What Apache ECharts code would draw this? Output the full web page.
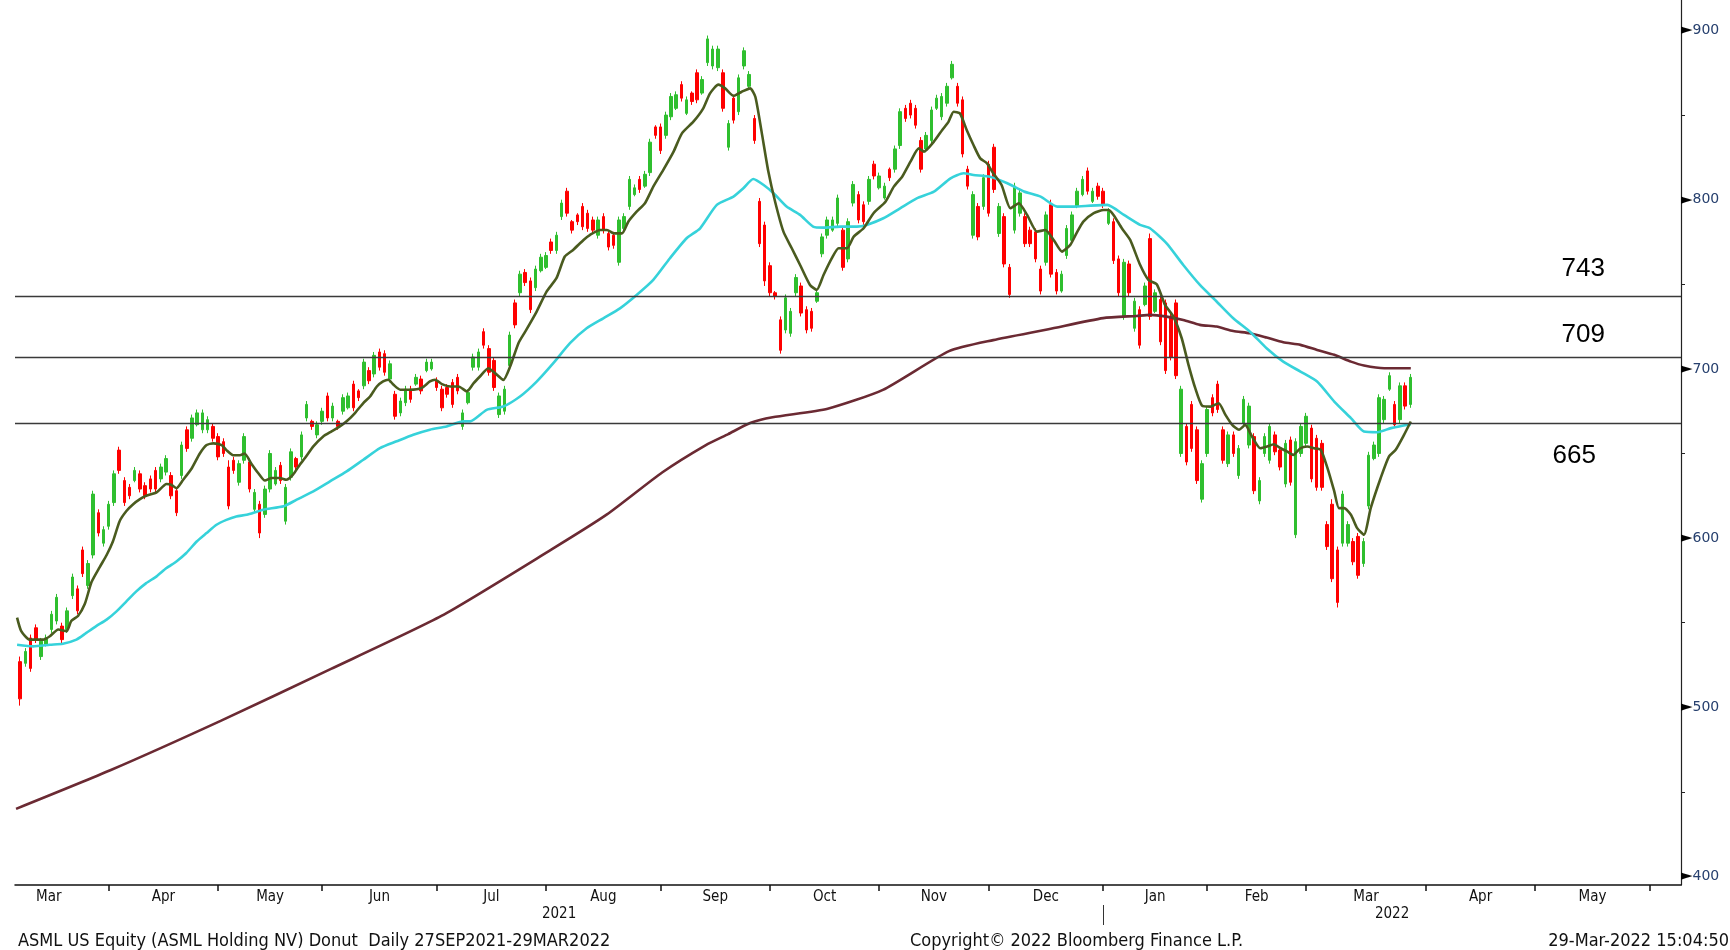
<!DOCTYPE html>
<html>
<head>
<meta charset="utf-8">
<script src="https://cdn.jsdelivr.net/npm/echarts@6/dist/echarts.min.js"></script>
<style>
html, body { margin: 0; padding: 0; background: #fff; }
#chart { width: 1730px; height: 950px; }
</style>
</head>
<body>
<div id="chart"></div>
<script>
// daily bars, index 0 = 8 Mar 2021 : [open, close, low, high]
const candles = [
  [527,505,501,530],[526,533,524,535],[541,523,521,543],[547,540,538,549],[530,539,528,541],
  [537,541,536,543],[546,555,544,557],[551,565,549,567],[548,540,538,550],[546,557,544,559],
  [566,577,564,579],[570,557,555,572],[593,579,577,595],[572,585,570,587],[590,626,588,628],
  [615,603,601,617],[597,605,595,607],[607,620,605,622],[621,638,619,640],[652,640,638,654],
  [634,621,619,636],[630,625,623,632],[634,640,633,642],[638,629,627,640],[631,625,623,633],
  [635,629,627,637],[640,629,627,642],[635,642,633,644],[639,647,637,649],[637,625,623,639],
  [628,615,613,630],[637,655,635,657],[664,653,651,666],[659,671,657,673],[667,674,666,676],
  [664,674,662,676],[664,670,662,672],[666,659,657,668],[660,648,646,662],[657,650,648,659],
  [642,619,617,646],[646,640,638,648],[633,644,631,646],[646,660,644,662],[645,629,627,647],
  [617,627,615,629],[620,603,600,622],[614,629,612,631],[629,650,627,652],[632,640,631,642],
  [643,634,632,645],[610,630,608,632],[636,651,634,653],[647,642,640,648],[648,661,646,663],
  [671,679,669,681],[669,666,664,670],[661,667,659,669],[669,675,667,677],[684,671,669,686],
  [671,678,669,680],[669,666,664,670],[675,683,673,685],[677,684,676,686],[691,677,675,693],
  [687,683,681,688],[690,704,688,706],[699,693,691,701],[697,708,695,710],[710,701,699,712],
  [709,698,696,711],[694,703,692,705],[685,672,670,687],[674,681,672,683],[680,688,678,690],
  [688,682,680,690],[691,695,690,697],[694,687,685,696],[699,704,698,706],[700,704,699,706],
  [693,689,687,695],[688,677,675,690],[689,685,683,691],[692,679,677,694],[695,687,685,697],
  [666,674,664,676],[680,686,679,688],[701,707,699,709],[701,710,699,712],[722,714,712,724],
  [712,698,696,714],[705,689,687,707],[673,684,671,686],[675,688,673,690],[702,720,700,722],
  [739,726,724,741],[745,756,743,758],[757,751,749,759],[752,735,733,754],[748,759,746,761],
  [758,766,757,768],[760,767,759,769],[775,770,768,777],[770,779,768,781],[790,798,788,800],
  [805,792,790,807],[787,782,780,788],[791,787,785,792],[796,784,782,798],[792,783,781,794],
  [788,782,780,790],[779,788,777,790],[790,782,780,792],[780,772,770,782],[779,773,771,781],
  [763,788,761,790],[783,790,782,792],[796,812,794,814],[803,807,802,809],[812,806,804,814],
  [808,815,807,817],[816,834,814,836],[843,838,836,844],[843,829,827,845],[838,850,836,852],
  [849,861,847,863],[854,862,853,864],[868,860,858,870],[851,859,850,861],[863,858,856,864],
  [875,859,857,877],[863,871,862,873],[881,895,879,897],[879,889,877,891],[878,889,876,891],
  [875,854,852,877],[831,845,829,847],[860,847,845,862],[852,872,850,874],[879,888,877,890],
  [867,874,866,876],[848,835,833,850],[799,774,772,801],[785,752,749,787],[761,745,743,763],
  [745,743,741,746],[729,711,709,731],[723,742,721,744],[721,734,719,736],[745,754,743,756],
  [749,733,731,751],[735,723,721,737],[734,724,722,736],[740,745,739,747],[768,778,766,780],
  [779,788,777,790],[782,788,781,790],[786,801,784,803],[782,760,758,784],[765,787,763,789],
  [798,809,796,811],[803,788,786,805],[797,787,785,799],[799,812,797,814],[821,814,812,823],
  [807,814,806,816],[801,808,800,810],[818,813,811,819],[818,830,816,832],[832,852,830,854],
  [854,848,846,856],[857,850,848,859],[854,844,842,856],[835,818,816,837],[830,838,828,840],
  [835,853,833,855],[854,860,853,862],[849,861,847,863],[857,867,855,869],[872,880,871,882],
  [867,857,855,869],[859,827,825,861],[818,808,806,820],[779,803,777,805],[796,778,776,798],
  [796,813,794,815],[821,792,790,823],[831,806,804,833],[780,796,778,798],[790,762,760,792],
  [760,744,742,762],[782,808,780,810],[792,804,790,806],[790,774,772,792],[782,774,772,784],
  [781,765,763,783],[759,746,744,761],[763,791,761,793],[797,756,754,800],[757,746,744,759],
  [746,756,745,758],[767,783,765,785],[776,791,774,793],[796,805,795,807],[803,812,802,814],
  [817,805,803,819],[799,805,798,807],[808,802,800,810],[805,797,795,807],[786,793,785,795],
  [787,764,762,789],[765,745,743,767],[731,763,729,765],[762,745,743,764],[724,740,722,742],
  [735,714,712,737],[738,749,737,751],[777,731,729,780],[734,745,733,747],[741,716,714,743],
  [739,699,697,741],[731,707,705,733],[739,696,694,741],[650,688,648,690],[666,645,643,668],
  [679,653,651,681],[664,634,632,666],[623,644,621,646],[650,676,648,678],[683,674,672,685],
  [691,676,674,693],[664,646,644,666],[644,661,642,663],[661,650,648,663],[637,653,635,655],
  [668,682,666,684],[655,678,653,680],[660,628,626,662],[622,634,620,636],[650,660,648,662],
  [646,666,644,668],[661,651,649,663],[652,642,640,654],[632,656,630,658],[658,633,631,660],
  [602,657,600,659],[650,666,648,668],[656,672,654,674],[665,635,633,667],[659,630,628,661],
  [656,630,628,658],[608,595,593,610],[620,576,574,623],[593,562,559,595],[597,626,595,628],
  [597,608,595,610],[598,586,584,600],[601,578,576,603],[585,598,583,600],[619,649,617,651],
  [647,655,646,657],[650,683,648,685],[670,682,668,684],[688,696,687,698],[679,667,665,681],
  [670,690,668,692],[690,678,676,692],[679,695,677,697]
];

// moving averages: [day index, value]
const ma20 = [
  [-0.6,553],[0.2,545],[1.8,540],[4.4,540],[5.7,542],[7.3,546],[8.9,545],[9.8,551],[11.1,554],
  [12.4,561],[13.7,574],[15.3,583],[16.6,590],[17.8,598],[19.1,610],[20.4,616],[21.7,620],
  [23,623],[24.2,625],[26.2,627],[28.1,632],[29,631.5],[30,629.5],[31.3,634.5],[32.9,641],
  [34.5,650],[35.8,655],[37.1,656],[38.7,655],[39.6,652],[40.9,649],[42.2,649],[43.1,650],
  [44.4,644],[45.7,638.5],[47,634],[48.3,635.5],[49.9,635.5],[51.1,634.5],[52.4,637.5],
  [53.7,643.4],[54.7,647.3],[56.3,654.2],[58.2,660.1],[59.8,663.1],[61.4,666],[62.7,669],
  [64.3,673.9],[65.9,679.8],[67.2,683.7],[68.5,689.6],[69.7,692.6],[70.7,693.6],[71.7,690.6],
  [73,687.7],[74.9,687.7],[77.1,688.7],[78.7,692.6],[79.7,693.6],[81,691],[82.6,689.6],
  [84.2,689.6],[85.8,686.7],[87.1,691.6],[88.3,695.5],[89.9,700.4],[91.2,697.5],[92.8,693.5],
  [94.1,701.4],[95.7,715.2],[97,722],[99.2,733.9],[101.1,745.7],[103,753.6],[104.6,766.4],
  [106.2,770.3],[108.2,776.2],[109.4,779.1],[111.4,782.1],[112.7,782.1],[114,780.1],
  [115.6,780.1],[116.8,787],[118.4,792.9],[120,797.9],[121.6,807.7],[123.5,817.5],
  [125.5,828.4],[127.1,839.2],[129.3,846.1],[131.2,854],[132.5,862.8],[134.1,868],
  [135.4,865.8],[137,861.4],[138.6,863.8],[140.2,865.8],[141.2,860.8],[142.4,840.2],
  [143.7,816.6],[145,798.8],[146.6,781.1],[148.2,771.3],[149.8,761.4],[151.7,749.6],
  [153,746.7],[154.3,755.5],[155.9,765.4],[157.2,771.3],[158.8,771.3],[160.1,778.2],
  [162,783.1],[163.9,792],[166.2,798.8],[167.8,807.7],[169.4,813.6],[171,822.5],[172.6,830.3],
  [173.6,828.4],[175.5,834.3],[177.1,841.2],[178.3,846],[179.3,852],[180.5,851],[181.8,841.2],
  [183.1,832.3],[184.4,824.4],[185.7,821.5],[186.9,815.6],[188.5,808.7],[190.2,794.9],
  [191.8,797.9],[193.4,791],[195.3,781.1],[196.9,782.1],[198.5,776.2],[200.1,769.3],
  [201.7,773.3],[202.9,780.2],[204.2,787],[206.2,792],[208.1,793.9],[209,793.9],[210,791],
  [211.6,783.1],[213.2,776.2],[215.1,761.5],[216.7,752.6],[218.3,750],[219.9,737.8],
  [221.5,730.9],[223.1,718.1],[224.4,702.4],[225.7,688.6],[227,678.3],[228.6,677.7],
  [230.2,679.7],[231.5,672.8],[232.8,666.9],[234.1,664],[235.3,666.9],[236.6,660],
  [238.2,653.1],[239.5,654.1],[240.8,655.5],[242.1,653.1],[243.3,651.2],[244.5,649.2],
  [245.9,653.1],[247.2,654.1],[248.5,653.1],[249.8,652.2],[251.1,641.3],[252.4,627.6],
  [253.3,617.7],[254.3,617.7],[255.6,613.8],[256.8,605.9],[258.1,602],[259.4,617.7],
  [261.3,635.4],[262.9,648.2],[264.2,652.2],[265.8,661],[267.1,668.9]
];
const ma50 = [
  [-0.6,537],[2.5,536],[5.7,537],[8.2,537.6],[10.8,540],[12.7,544],[14.6,548],[16.6,551.8],
  [18.5,556.7],[20.4,562.6],[22.3,568.5],[24.2,573.4],[26.2,577.4],[28.1,582.3],[30,586.2],
  [31.9,591.2],[33.9,598],[35.8,603],[37.7,607.9],[39.6,610.8],[41.5,612.8],[43.5,613.8],
  [46.7,616.8],[50.6,618.8],[53.1,622.7],[56.3,627.6],[59.5,633.5],[62.7,639.4],[65.9,646.3],
  [69.1,653.2],[72.3,657.2],[75.5,661.1],[78.7,664.1],[81.9,666],[85.2,669],[86.4,669],
  [89.6,675.8],[92.8,677.8],[96,683.7],[99.2,692.5],[102.4,703.4],[105.6,715.2],[108.8,724],
  [112,729.9],[115.2,735.8],[118.4,743.7],[121.6,752.6],[124.8,765.4],[128,777.2],
  [130.6,783.1],[133.8,796.9],[137,801.8],[138.9,806.7],[140.8,812.2],[142.8,808.7],
  [144.7,803.8],[147.2,795.9],[149.8,791],[152.3,784.1],[154.3,783.5],[157.5,784.1],
  [160.7,784.1],[162.6,785.1],[165.8,789],[169,794.9],[172.2,800.8],[175.5,804.7],
  [178.7,812.6],[181.2,815.6],[183.1,814.6],[186.3,813.6],[189.6,809.7],[192.8,804.8],
  [196,801.8],[199.2,795.9],[202.4,795.9],[205.6,796.5],[208.8,796.9],[212,791],[215.1,785.1],
  [217,783.1],[220.2,774.2],[223.4,761.4],[226.6,749.6],[229.8,739.8],[233,729.9],[236.2,722],
  [239.4,712.2],[242.6,704.3],[245.9,698.4],[249.1,692.5],[252.4,680.7],[255.6,670.9],
  [258.1,663],[260.7,662.6],[263.3,665],[267.1,667.3]
];
const ma200 = [
  [-0.8,440],[17.3,462.8],[38.5,492],[59.7,522.7],[80.9,554],[102,593.2],[112.7,614],
  [123.3,638.8],[131.7,655],[136,661.5],[140.2,668],[144.5,671.4],[155.1,676.5],[165.7,687.6],
  [178.4,710.5],[186.9,717],[197.5,723.4],[208,730],[214.4,731.3],[217,731.9],[220.2,730.9],
  [223.4,728.9],[226.6,726],[229.8,725],[233,722.4],[236.2,721.1],[239.4,718.5],[242.6,715.7],
  [245.9,714.2],[249.1,711.2],[252.4,708.3],[255.6,704.3],[258.1,702],[262,700.4],[267.1,700.4]
];

// horizontal levels (drawn where they sit on the chart) and their captions
const levels = [743, 707, 668];
const levelNames = ['743', '709', '665'];

// axis labels
const monthNames = ['Mar','Apr','May','Jun','Jul','Aug','Sep','Oct','Nov','Dec','Jan','Feb','Mar','Apr','May'];
const monthEdges = [-6, 17, 38, 58, 80, 101, 123, 144, 165, 186, 208, 228, 247, 270, 291, 313];
const yearNames = ['2021', '2022'];
const yearEdges = [-1, 208, 319];
const priceTicks = [400, 500, 600, 700, 800, 900];
const priceMinor = [450, 550, 650, 750, 850];

const UP = '#2fbf2f', DOWN = '#ff0000';
const FONT = '"DejaVu Sans Condensed", "DejaVu Sans", sans-serif';

const monthMid = monthNames.map((m, k) => (monthEdges[k] + monthEdges[k + 1]) / 2);
const yearMid = yearNames.map((y, k) => (yearEdges[k] + yearEdges[k + 1]) / 2);

const chart = echarts.init(document.getElementById('chart'));

const option = {
    animation: false,
    grid: { left: 15, right: 49, top: 0, bottom: 65 },
    xAxis: [
        {
            type: 'value',
            min: yearEdges[0],
            max: yearEdges[2],
            position: 'bottom',
            splitLine: { show: false },
            axisLine: { show: true, onZero: false, lineStyle: { color: '#111', width: 1.5 } },
            axisTick: { show: true, customValues: monthEdges.slice(1), length: 6, lineStyle: { color: '#111', width: 1.5 } },
            axisLabel: {
                customValues: monthMid,
                margin: 5,
                color: '#111',
                fontFamily: FONT,
                fontSize: 15,
                formatter: v => monthNames[monthMid.indexOf(v)] || ''
            }
        },
        {
            type: 'value',
            min: yearEdges[0],
            max: yearEdges[2],
            position: 'bottom',
            offset: 20,
            splitLine: { show: false },
            axisLine: { show: false, onZero: false },
            axisTick: { show: true, customValues: [yearEdges[1]], length: 20, lineStyle: { color: '#333', width: 1 } },
            axisLabel: {
                customValues: yearMid,
                margin: 2,
                color: '#111',
                fontFamily: FONT,
                fontSize: 15,
                formatter: v => yearNames[yearMid.indexOf(v)] || ''
            }
        }
    ],
    yAxis: {
        type: 'value',
        position: 'right',
        min: 395,
        max: 918,
        splitLine: { show: false },
        axisLine: { show: true, onZero: false, lineStyle: { color: '#222', width: 1.2 } },
        axisTick: { show: true, customValues: priceMinor, length: 4, lineStyle: { color: '#222' } },
        axisLabel: {
            customValues: priceTicks,
            margin: 0,
            formatter: v => '{t|►}{v|' + v + '}',
            rich: {
                t: { color: '#000', fontSize: 15, fontFamily: 'DejaVu Sans' },
                v: { color: '#27406e', fontSize: 14, fontFamily: 'DejaVu Sans' }
            }
        }
    },
    series: [
        {
            type: 'candlestick',
            data: candles.map((c, i) => [i, c[0], c[1], c[2], c[3]]),
            encode: { x: 0, y: [1, 2, 3, 4] },
            barWidth: 3,
            itemStyle: { color: UP, color0: DOWN, borderColor: UP, borderColor0: DOWN, borderWidth: 1 },
            markLine: {
                silent: true,
                symbol: ['none', 'none'],
                lineStyle: { color: '#3a3a3a', width: 1.3, type: 'solid' },
                data: levels.map((v, k) => ({
                    yAxis: v,
                    label: {
                        show: true,
                        formatter: levelNames[k],
                        position: k < 2 ? 'insideEndTop' : 'insideEndBottom',
                        distance: 0,
                        padding: k < 2 ? [0, 76, k === 0 ? 14 : 9, 0] : [20, 85, 0, 0],
                        color: '#000',
                        fontSize: 26,
                        fontFamily: '"Liberation Sans", Arial, sans-serif'
                    }
                }))
            }
        },
        {
            type: 'line', data: ma200, showSymbol: false, smooth: 0.2,
            lineStyle: { color: '#6b2a33', width: 2.6 }
        },
        {
            type: 'line', data: ma50, showSymbol: false, smooth: 0.2,
            lineStyle: { color: '#36d2da', width: 2.6 }
        },
        {
            type: 'line', data: ma20, showSymbol: false, smooth: 0.2,
            lineStyle: { color: '#4a5b1f', width: 2.6 }
        }
    ],
    graphic: [
        { type: 'text', left: 18, top: 932, style: { text: 'ASML US Equity (ASML Holding NV) Donut  Daily 27SEP2021-29MAR2022', font: '18px ' + FONT, fill: '#111' } },
        { type: 'text', left: 910, top: 932, style: { text: 'Copyright\u00A9 2022 Bloomberg Finance L.P.', font: '18px ' + FONT, fill: '#111' } },
        { type: 'text', right: 1, top: 932, style: { text: '29-Mar-2022 15:04:50', font: '18px ' + FONT, fill: '#111' } }
    ]
};

chart.setOption(option);
</script>
</body>
</html>
